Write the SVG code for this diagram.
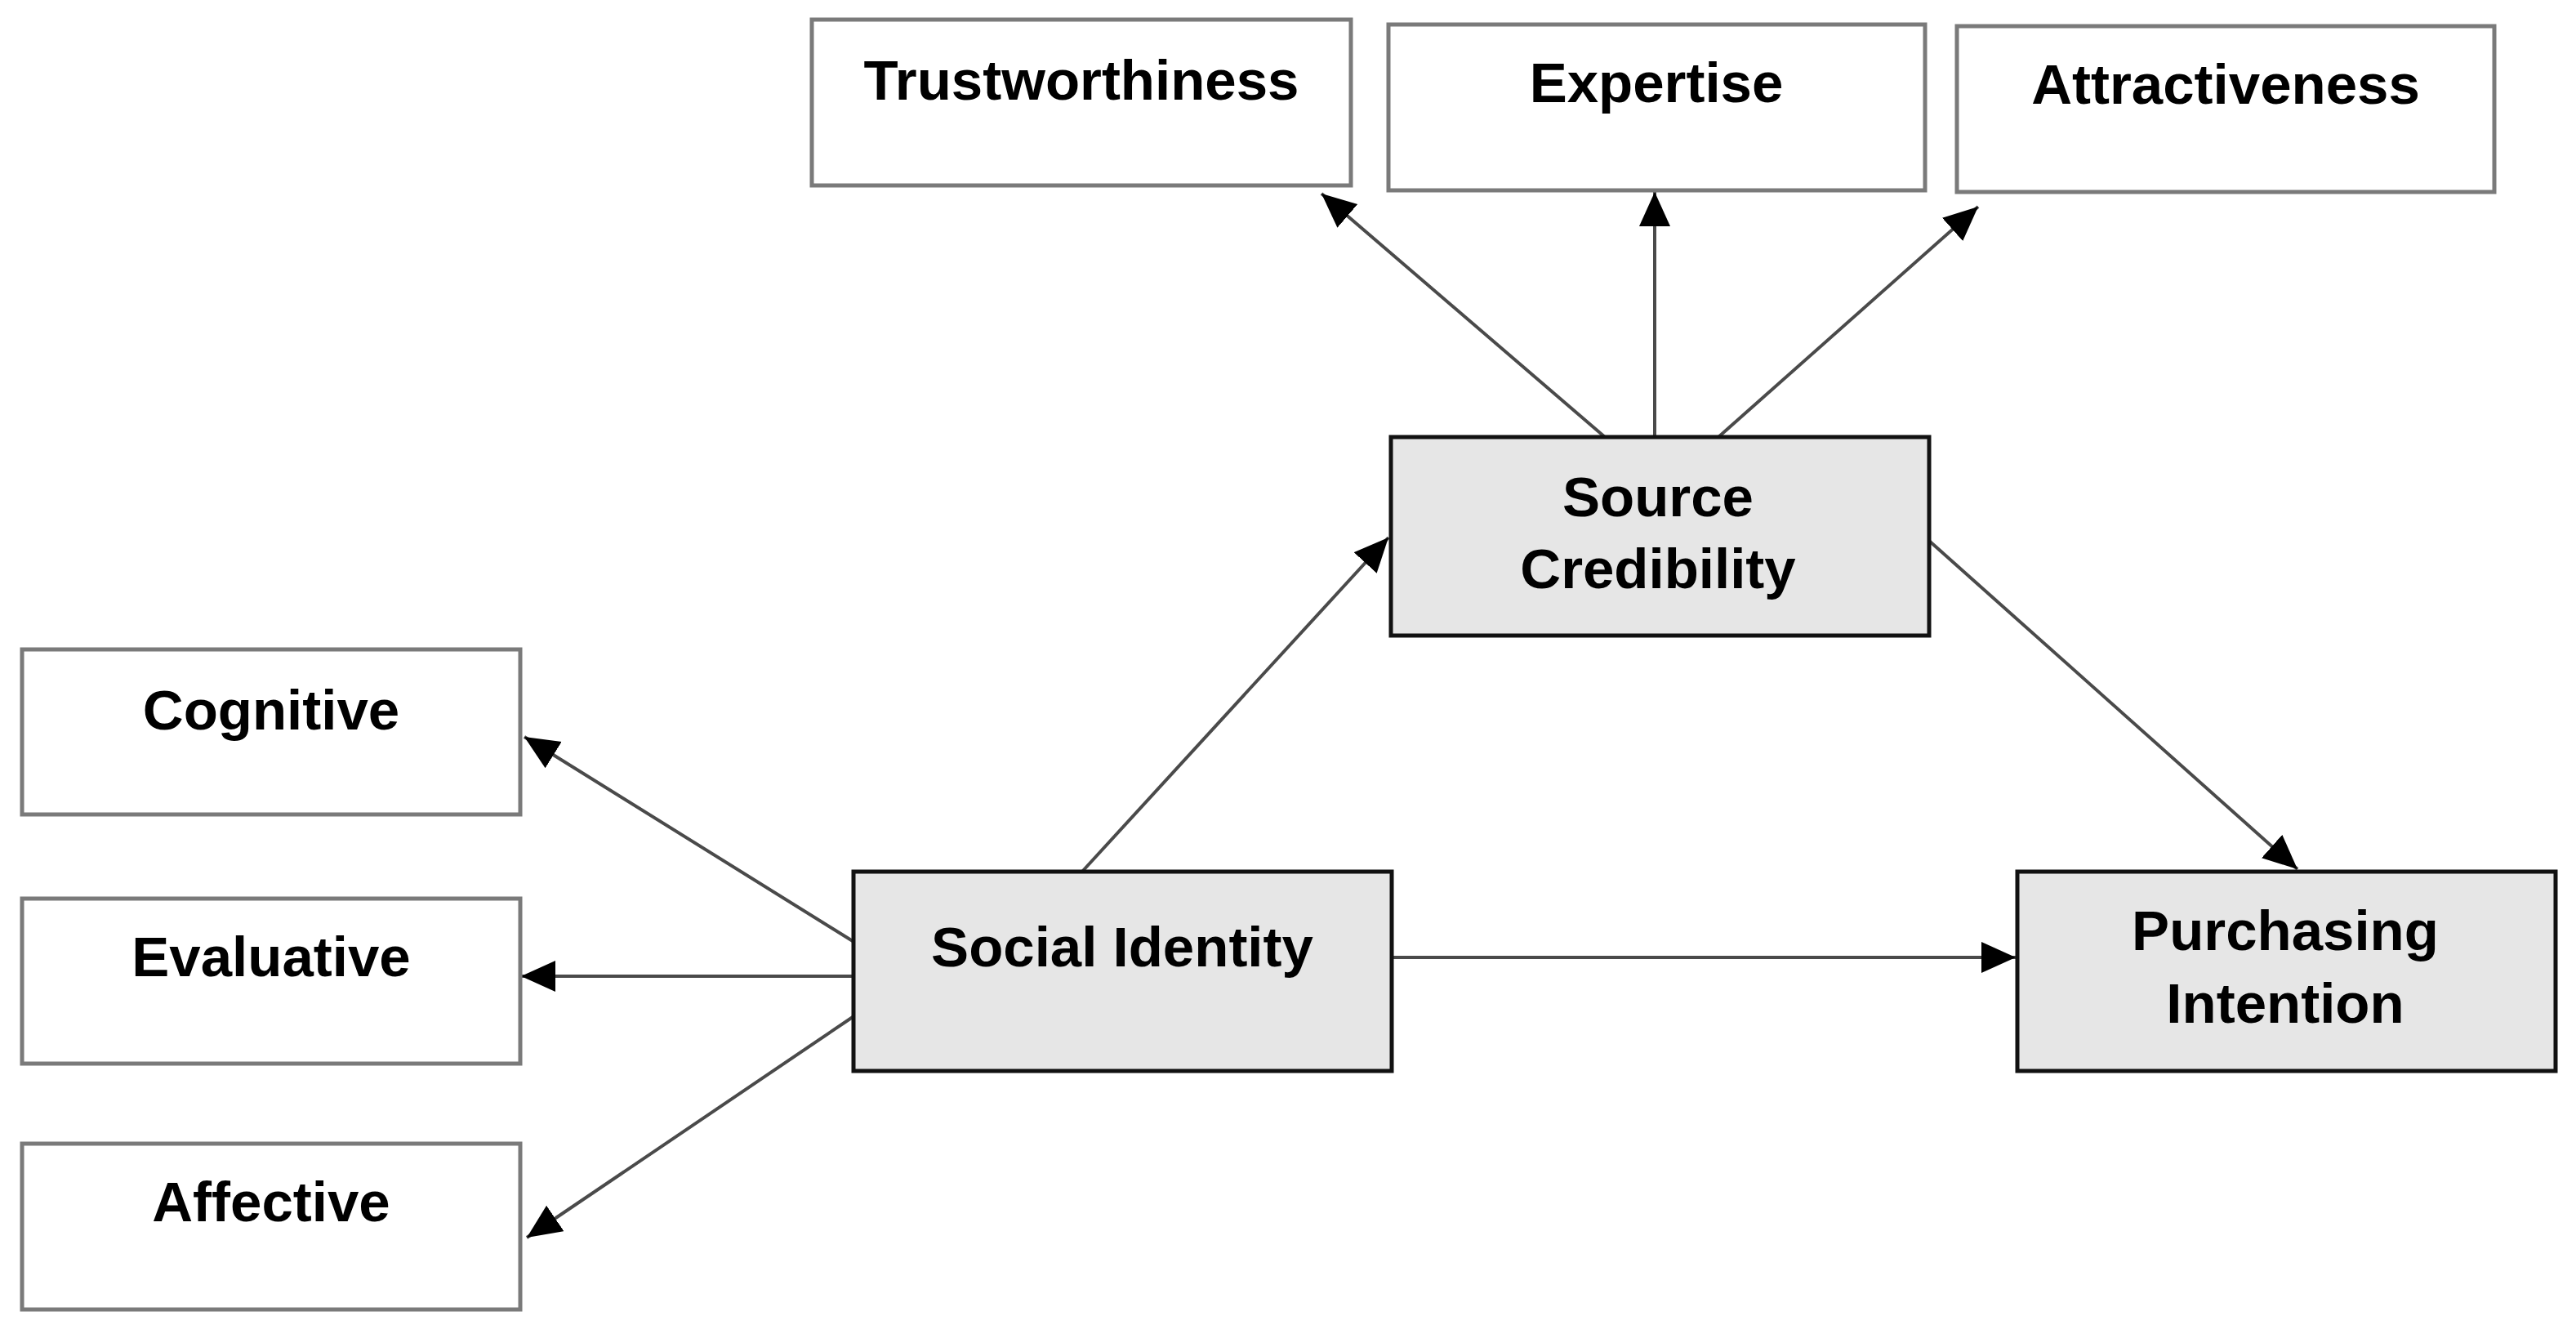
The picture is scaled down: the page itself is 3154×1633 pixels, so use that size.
<svg xmlns="http://www.w3.org/2000/svg" width="3154" height="1633" viewBox="0 0 3154 1633">
<style>
.w{fill:#ffffff;stroke:#7a7a7a;stroke-width:5}
.g{fill:#e6e6e6;stroke:#111111;stroke-width:5}
.t{font-family:"Liberation Sans",Arial,sans-serif;font-weight:bold;font-size:69px;fill:#000;text-anchor:middle}
.c{stroke:#4a4a4a;stroke-width:4;fill:none;marker-end:url(#ah)}
</style>
<defs>
<marker id="ah" markerUnits="userSpaceOnUse" markerWidth="44" markerHeight="40" refX="42" refY="19" orient="auto" viewBox="0 0 44 40">
<path d="M0,0 L42,19 L0,38 z" fill="#000"/>
</marker>
</defs>
<rect width="3154" height="1633" fill="#ffffff"/>
<g id="connectors">
<line class="c" x1="1965" y1="535" x2="1618" y2="237"/>
<line class="c" x1="2026" y1="535" x2="2026" y2="235"/>
<line class="c" x1="2104" y1="535" x2="2422" y2="253"/>
<line class="c" x1="1324" y1="1068" x2="1700" y2="658"/>
<line class="c" x1="2362" y1="662" x2="2813" y2="1064"/>
<line class="c" x1="1704" y1="1172" x2="2468" y2="1172"/>
<line class="c" x1="1044" y1="1152" x2="642" y2="902"/>
<line class="c" x1="1044" y1="1195" x2="638" y2="1195"/>
<line class="c" x1="1044" y1="1245" x2="645" y2="1515"/>
</g>
<g id="trustworthiness">
<rect class="w" x="994" y="24" width="660" height="203"/>
<text class="t" x="1324" y="122">Trustworthiness</text>
</g>
<g id="expertise">
<rect class="w" x="1700" y="30" width="657" height="203"/>
<text class="t" x="2028" y="125">Expertise</text>
</g>
<g id="attractiveness">
<rect class="w" x="2396" y="32" width="658" height="203"/>
<text class="t" x="2725" y="127">Attractiveness</text>
</g>
<g id="source-credibility">
<rect class="g" x="1703" y="535" width="659" height="243"/>
<text class="t" x="2030" y="632">Source</text>
<text class="t" x="2030" y="720">Credibility</text>
</g>
<g id="cognitive">
<rect class="w" x="27" y="795" width="610" height="202"/>
<text class="t" x="332" y="893">Cognitive</text>
</g>
<g id="evaluative">
<rect class="w" x="27" y="1100" width="610" height="202"/>
<text class="t" x="332" y="1195">Evaluative</text>
</g>
<g id="affective">
<rect class="w" x="27" y="1400" width="610" height="203"/>
<text class="t" x="332" y="1495">Affective</text>
</g>
<g id="social-identity">
<rect class="g" x="1045" y="1067" width="659" height="244"/>
<text class="t" x="1374" y="1183">Social Identity</text>
</g>
<g id="purchasing-intention">
<rect class="g" x="2470" y="1067" width="659" height="244"/>
<text class="t" x="2798" y="1163">Purchasing</text>
<text class="t" x="2798" y="1252">Intention</text>
</g>
</svg>
